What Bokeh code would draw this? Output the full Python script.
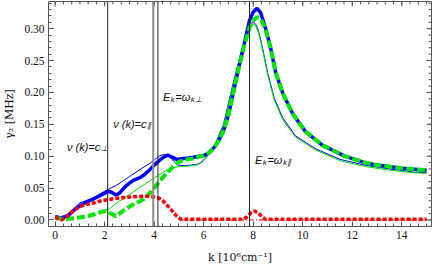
import math
from bokeh.plotting import figure
from bokeh.models import (Range1d, SingleIntervalTicker, NumeralTickFormatter,
                          Span, Label)
from bokeh.embed import file_html
from bokeh.resources import INLINE

# ---------------- data ----------------
k_tot = [0.0, 0.25, 0.5, 0.75, 1.0, 1.25, 1.5, 1.75, 2.0, 2.15, 2.3, 2.45, 2.6,
         2.8, 3.0, 3.2, 3.4, 3.6, 3.8, 4.0, 4.2, 4.4, 4.55, 4.7, 4.9, 5.1, 5.4,
         5.7, 6.0, 6.2, 6.45, 6.6, 6.8, 7.0, 7.2, 7.4, 7.6, 7.85, 8.0, 8.15,
         8.3, 8.5, 8.7, 8.9, 9.2, 9.6, 10.1, 10.8, 11.7, 12.5, 13.0, 14.0, 15.0]
g_tot = [0.005, 0.003, 0.006, 0.015, 0.022, 0.028, 0.032, 0.037, 0.042, 0.045,
         0.043, 0.039, 0.042, 0.051, 0.058, 0.063, 0.066, 0.071, 0.078, 0.086,
         0.093, 0.099, 0.1015, 0.099, 0.095, 0.096, 0.097, 0.099, 0.101, 0.105,
         0.115, 0.124, 0.140, 0.165, 0.200, 0.236, 0.270, 0.313, 0.326, 0.332,
         0.325, 0.300, 0.270, 0.232, 0.198, 0.166, 0.139, 0.117, 0.100, 0.090,
         0.086, 0.081, 0.078]

k_grn = [0.0, 0.4, 0.8, 1.2, 1.6, 1.9, 2.05, 2.25, 2.45, 2.7, 3.0, 3.3, 3.55,
         3.8, 4.0, 4.2, 4.4, 4.6, 4.8, 5.0, 5.2, 5.5, 5.8, 6.0, 6.2, 6.45, 6.6,
         6.8, 7.0, 7.2, 7.4, 7.6, 7.85, 8.0, 8.15, 8.3, 8.5, 8.7, 8.9, 9.2, 9.6,
         10.1, 10.8, 11.7, 12.5, 13.0, 14.0, 15.0]
g_grn = [0.003, 0.001, 0.003, 0.005, 0.009, 0.013, 0.014, 0.010, 0.006, 0.013,
         0.021, 0.027, 0.032, 0.041, 0.050, 0.060, 0.069, 0.077, 0.085, 0.091,
         0.094, 0.096, 0.099, 0.101, 0.105, 0.115, 0.124, 0.140, 0.165, 0.200,
         0.236, 0.268, 0.302, 0.313, 0.318, 0.316, 0.298, 0.270, 0.232, 0.198,
         0.166, 0.139, 0.117, 0.100, 0.090, 0.086, 0.081, 0.078]

k_red = [0.0, 0.25, 0.5, 0.75, 1.0, 1.25, 1.5, 1.75, 2.0, 2.5, 3.0, 3.5, 3.8,
         4.0, 4.2, 4.35, 4.55, 4.75, 4.95, 5.1, 6.0, 7.0, 7.6, 7.75, 7.9, 8.05,
         8.2, 8.35, 8.5, 10.0, 12.0, 15.0]
g_red = [0.004, 0.0, 0.006, 0.015, 0.021, 0.024, 0.026, 0.029, 0.031, 0.034,
         0.036, 0.037, 0.037, 0.036, 0.034, 0.030, 0.022, 0.013, 0.004, 0.001,
         0.001, 0.001, 0.001, 0.005, 0.011, 0.014, 0.011, 0.005, 0.001, 0.001,
         0.001, 0.001]

k_thin_b = [0.0, 0.25, 0.5, 0.75, 1.0, 1.25, 1.5, 1.75, 2.0, 2.2, 2.5, 3.0, 3.5,
            3.8, 4.0, 4.2, 4.35, 4.55, 4.75, 4.95, 5.2, 5.5, 5.8, 6.0, 6.2, 6.45,
            6.8, 7.18, 7.5, 7.85, 7.98, 8.1, 8.2, 8.3, 8.4, 8.6, 8.85, 9.18, 9.7,
            10.5, 11.5, 12.5, 13.5, 14.5, 15.0]
g_thin_b = [0.006, 0.005, 0.009, 0.018, 0.027, 0.030, 0.034, 0.039, 0.045, 0.049,
            0.055, 0.068, 0.081, 0.088, 0.094, 0.100, 0.1025, 0.101, 0.094, 0.086,
            0.085, 0.086, 0.088, 0.094, 0.103, 0.118, 0.150, 0.213, 0.262, 0.302,
            0.311, 0.307, 0.298, 0.283, 0.265, 0.228, 0.191, 0.161, 0.132, 0.112,
            0.095, 0.086, 0.080, 0.075, 0.074]

k_thin_g = [2.12, 2.5, 3.0, 3.5, 4.0, 4.5, 4.9, 5.2, 5.5, 5.8, 6.0, 6.2, 6.45,
            6.8, 7.18, 7.5, 7.85, 7.98, 8.1, 8.2, 8.3, 8.4, 8.6, 8.85, 9.18, 9.7,
            10.5, 11.5, 12.5, 13.5, 14.5, 15.0]
g_thin_g = [0.015, 0.027, 0.040, 0.053, 0.066, 0.078, 0.083, 0.084, 0.085, 0.087,
            0.093, 0.102, 0.116, 0.148, 0.210, 0.259, 0.299, 0.308, 0.304, 0.295,
            0.280, 0.262, 0.225, 0.188, 0.158, 0.130, 0.110, 0.093, 0.084, 0.078,
            0.074, 0.073]

k_thin_r = [5.0, 15.0]
g_thin_r = [0.0, 0.0]

vlines = [2.12, 3.96, 4.15, 7.85]
vline_colors = ["#222222", "#8c8c8c", "#222222", "#222222"]
vline_widths = [1, 2, 1, 1]

x_major = [0, 2, 4, 6, 8, 10, 12, 14]
y_major = [0.0, 0.05, 0.10, 0.15, 0.20, 0.25, 0.30]
x_sub = 6   # minor subdivisions
y_sub = 5

X0, X1 = -0.27, 15.2
Y0, Y1 = -0.0103, 0.3426

# ---------------- figure ----------------
p = figure(frame_width=383, frame_height=225,
           x_range=Range1d(X0, X1), y_range=Range1d(Y0, Y1),
           output_backend="svg", toolbar_location=None,
           min_border_left=0, min_border_right=2, min_border_top=1,
           min_border_bottom=0, background_fill_color="white",
           outline_line_color="#555555", outline_line_width=1)
p.xgrid.visible = False
p.ygrid.visible = False

bottom_ax = p.below[0]
left_ax = p.left[0]
bottom_ax.ticker = SingleIntervalTicker(interval=2, num_minor_ticks=x_sub)
left_ax.ticker = SingleIntervalTicker(interval=0.05, num_minor_ticks=y_sub)
left_ax.formatter = NumeralTickFormatter(format="0.00")

for ax in [bottom_ax, left_ax]:
    ax.axis_line_color = None
    ax.major_tick_in = 5
    ax.major_tick_out = 0
    ax.minor_tick_in = 3
    ax.minor_tick_out = 0
    ax.major_tick_line_color = "#555555"
    ax.minor_tick_line_color = "#555555"
    ax.major_label_text_font = "Liberation Serif"
    ax.major_label_text_font_size = "11.5px"
    ax.major_label_text_color = "#111111"
    ax.major_label_standoff = 4
    ax.axis_label_text_font = "DejaVu Serif"
    ax.axis_label_text_font_style = "normal"
    ax.axis_label_text_font_size = "11px"
    ax.axis_label_text_color = "#111111"
    ax.axis_label_standoff = 5

bottom_ax.axis_label_standoff = 9
bottom_ax.axis_label = "k [10\u2076cm\u207b\u00b9]"
left_ax.axis_label = "\u03b3\u2082 [MHz]"

# ticks on top and right frame edges (clipped markers, half inside)
x_minor = [x_major[0] + i * 2 / x_sub for i in range(-1, 8 * x_sub + 1)]
y_minor = [y_major[0] + i * 0.05 / y_sub for i in range(-1, 7 * y_sub + 3)]
p.scatter(x_minor, [Y1] * len(x_minor), marker="dash", angle=math.pi / 2,
          size=6, line_color="#555555", line_width=1)
p.scatter(x_major, [Y1] * len(x_major), marker="dash", angle=math.pi / 2,
          size=10, line_color="#555555", line_width=1)
p.scatter([X1] * len(y_minor), y_minor, marker="dash", size=6,
          line_color="#555555", line_width=1)
p.scatter([X1] * len(y_major), y_major, marker="dash", size=10,
          line_color="#555555", line_width=1)

# vertical marker lines
for loc, col, w in zip(vlines, vline_colors, vline_widths):
    p.add_layout(Span(location=loc, dimension="height", line_color=col,
                      line_width=w))

# curves
p.line(k_thin_b, g_thin_b, line_color="#0000ff", line_width=1)
p.line(k_thin_g, g_thin_g, line_color="#00e000", line_width=1)
p.line(k_tot, g_tot, line_color="#0000ff", line_width=3.5)
p.line(k_grn, g_grn, line_color="#00e600", line_width=4, line_dash="8 3")
p.line(k_thin_r, g_thin_r, line_color="#ff0000", line_width=1,
       line_dash="5 2 1 2")
p.line(k_red, g_red, line_color="#ff0000", line_width=3.5, line_dash="4 2")

# annotations
def lab(x, y, t, size, align="left", xo=0, yo=0):
    p.add_layout(Label(x=x, y=y, text=t, text_font="Liberation Sans",
                       text_font_style="italic", text_font_size=size,
                       text_align=align, text_baseline="alphabetic",
                       x_offset=xo, y_offset=yo, text_color="#111111"))

lab(1.82, 0.115, "\u03bd (k)=c", "11px", "right")
lab(1.82, 0.115, "\u22a5", "8px", "left", 0.5, -2)
lab(3.69, 0.151, "\u03bd (k)=c", "11px", "right")
lab(3.69, 0.151, "\u2225", "8px", "left", 0.5, -2)
lab(4.65, 0.193, "E", "11px", "right")
lab(4.65, 0.193, "k", "8px", "left", 0.3, -2.5)
lab(4.65, 0.193, "=\u03c9", "11px", "left", 5)
lab(4.65, 0.193, "k\u22a5", "8px", "left", 20.5, -2.5)
lab(8.37, 0.094, "E", "11px", "right")
lab(8.37, 0.094, "k", "8px", "left", 0.3, -2.5)
lab(8.37, 0.094, "=\u03c9", "11px", "left", 5)
lab(8.37, 0.094, "k\u2225", "8px", "left", 20.5, -2.5)

open("out.html", "w").write(file_html(p, INLINE))
